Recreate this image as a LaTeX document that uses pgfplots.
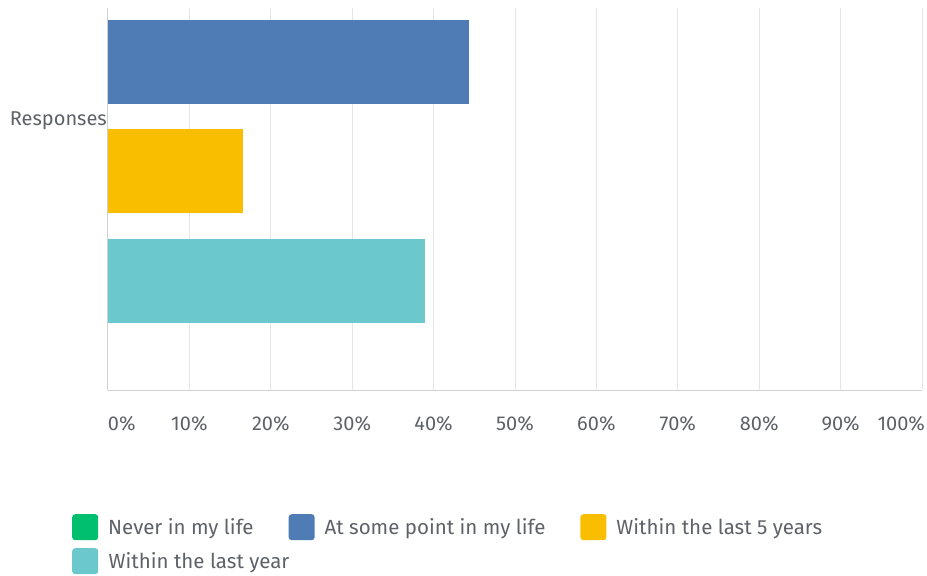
\documentclass[border=0pt]{standalone}
\usepackage{pgfplots}
\pgfplotsset{compat=1.18}
\usepackage{fontspec}
\setmainfont{Fira Sans}
\definecolor{cgreen}{HTML}{00BF6F}
\definecolor{cblue}{HTML}{507CB6}
\definecolor{cyellow}{HTML}{F9BE00}
\definecolor{cteal}{HTML}{6BC8CD}
\definecolor{ctext}{HTML}{5E6268}
\definecolor{cgrid}{HTML}{E6E6E6}
\definecolor{caxis}{HTML}{D2D2D2}
\pgfplotsset{sqlegend/.style={legend image code/.code={\fill[##1,draw=none,rounded corners=3pt] (0pt,-13pt) rectangle (26pt,13pt);}}}
\begin{document}
\begin{tikzpicture}
\path[use as bounding box] (0,0) rectangle (927pt,-576pt);
\begin{axis}[
  at={(108pt,-390pt)}, anchor=south west,
  scale only axis, width=814pt, height=382pt,
  xmin=0, xmax=100, ymin=0, ymax=3.49,
  xbar, bar width=84pt, bar shift=0pt,
  axis x line*=bottom, axis y line*=left,
  axis line style={caxis, line width=1pt, -},
  xmajorgrids, grid style={cgrid, line width=1pt},
  major tick length=0pt,
  xtick={0,10,...,100},
  xticklabels={\rlap{0\%},10\%,20\%,30\%,40\%,50\%,60\%,70\%,80\%,90\%,\llap{100\%\hspace{-3pt}}},
  xticklabel style={anchor=base, inner sep=0pt, yshift=-40pt, font=\fontsize{20}{22}\selectfont, text=ctext},
  ytick={2.4174}, yticklabels={Responses},
  yticklabel style={anchor=base east, inner sep=0pt, xshift=-1pt, font=\fontsize{20}{22}\selectfont, text=ctext},
  legend columns=3,
  legend style={at={(axis description cs:-0.0442,-0.3246)}, anchor=north west, draw=none, fill=none, inner sep=0pt,
    font=\fontsize{20.5}{24}\selectfont, text=ctext,
    nodes={inner sep=0pt},
    /tikz/every odd column/.append style={column sep=10pt},
    /tikz/every even column/.append style={column sep=35pt},
    row sep=8pt},
  legend cell align=left,
  clip=true,
]
\addplot[sqlegend, fill=cgreen, draw=none] coordinates {(0,4)};
\addplot[sqlegend, fill=cblue, draw=none] coordinates {(44.3,3)};
\addplot[sqlegend, fill=cyellow, draw=none] coordinates {(16.6,2)};
\addplot[sqlegend, fill=cteal, draw=none] coordinates {(38.9,1)};
\legend{Never in my life, At some point in my life, Within the last 5 years, \rlap{Within the last year}}
\end{axis}
\end{tikzpicture}
\end{document}
